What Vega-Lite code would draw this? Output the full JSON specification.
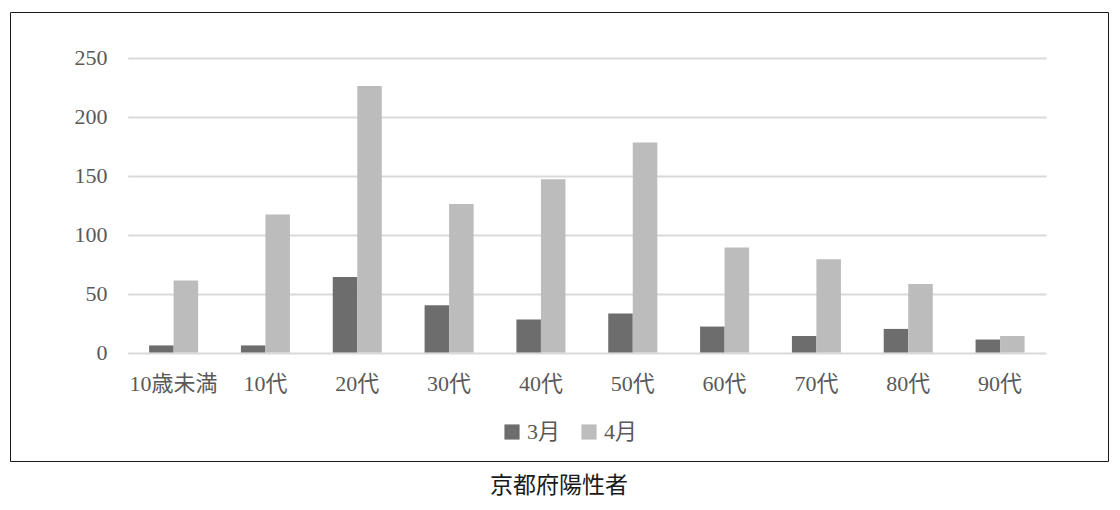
{
  "$schema": "https://vega.github.io/schema/vega-lite/v6.json",
  "width": 1098,
  "height": 449,
  "autosize": {"type": "none"},
  "padding": {"left": 10, "top": 12, "right": 12, "bottom": 49},
  "background": "#ffffff",
  "config": {
    "view": {"stroke": "#1a1a1a", "strokeWidth": 1},
    "font": "Liberation Serif, Noto Sans CJK JP",
    "legend": {"labelFont": "Liberation Serif, Noto Sans CJK JP"}
  },
  "title": {
    "text": "京都府陽性者",
    "orient": "bottom",
    "anchor": "middle",
    "offset": 14,
    "font": "Noto Sans CJK JP",
    "fontSize": 23,
    "fontWeight": "normal",
    "color": "#1a1a1a"
  },
  "data": {
    "values": [
      {"age": "10歳未満", "month": "3月", "count": 6},
      {"age": "10歳未満", "month": "4月", "count": 61},
      {"age": "10代", "month": "3月", "count": 6},
      {"age": "10代", "month": "4月", "count": 117},
      {"age": "20代", "month": "3月", "count": 64},
      {"age": "20代", "month": "4月", "count": 226},
      {"age": "30代", "month": "3月", "count": 40},
      {"age": "30代", "month": "4月", "count": 126},
      {"age": "40代", "month": "3月", "count": 28},
      {"age": "40代", "month": "4月", "count": 147},
      {"age": "50代", "month": "3月", "count": 33},
      {"age": "50代", "month": "4月", "count": 178},
      {"age": "60代", "month": "3月", "count": 22},
      {"age": "60代", "month": "4月", "count": 89},
      {"age": "70代", "month": "3月", "count": 14},
      {"age": "70代", "month": "4月", "count": 79},
      {"age": "80代", "month": "3月", "count": 20},
      {"age": "80代", "month": "4月", "count": 58},
      {"age": "90代", "month": "3月", "count": 11},
      {"age": "90代", "month": "4月", "count": 14}
    ]
  },
  "mark": {"type": "bar"},
  "encoding": {
    "x": {
      "field": "age",
      "type": "nominal",
      "sort": ["10歳未満", "10代", "20代", "30代", "40代", "50代", "60代", "70代", "80代", "90代"],
      "scale": {"range": [117.7, 1036], "paddingInner": 0.466, "paddingOuter": 0.233},
      "axis": {
        "title": null,
        "orient": "bottom",
        "offset": -108.5,
        "domain": false,
        "ticks": false,
        "tickSize": 0,
        "labelPadding": 21,
        "labelAngle": 0,
        "labelFont": "Liberation Serif, Noto Sans CJK JP",
        "labelFontSize": 22,
        "labelColor": "#595959",
        "grid": false
      }
    },
    "xOffset": {
      "field": "month",
      "type": "nominal",
      "sort": ["3月", "4月"],
      "scale": {"paddingInner": 0, "paddingOuter": 0}
    },
    "y": {
      "field": "count",
      "type": "quantitative",
      "scale": {"domain": [0, 250], "range": [340.5, 45.7], "nice": false},
      "axis": {
        "title": null,
        "orient": "left",
        "offset": -97,
        "values": [0, 50, 100, 150, 200, 250],
        "domain": false,
        "ticks": false,
        "tickSize": 0,
        "labelPadding": 0,
        "labelFont": "Liberation Serif, Noto Sans CJK JP",
        "labelFontSize": 22,
        "labelColor": "#595959",
        "grid": true,
        "gridColor": "#d9d9d9",
        "gridWidth": 1.8
      }
    },
    "color": {
      "field": "month",
      "type": "nominal",
      "sort": ["3月", "4月"],
      "scale": {"domain": ["3月", "4月"], "range": ["#6d6d6d", "#bbbcbb"]},
      "legend": {
        "title": null,
        "orient": "none",
        "direction": "horizontal",
        "legendX": 491,
        "legendY": 409,
        "padding": 0,
        "symbolType": "square",
        "symbolSize": 230,
        "symbolStrokeWidth": 0,
        "labelFont": "Liberation Serif, Noto Sans CJK JP",
        "labelFontSize": 22,
        "labelColor": "#595959",
        "labelOffset": 4,
        "columnPadding": 17
      }
    }
  }
}
